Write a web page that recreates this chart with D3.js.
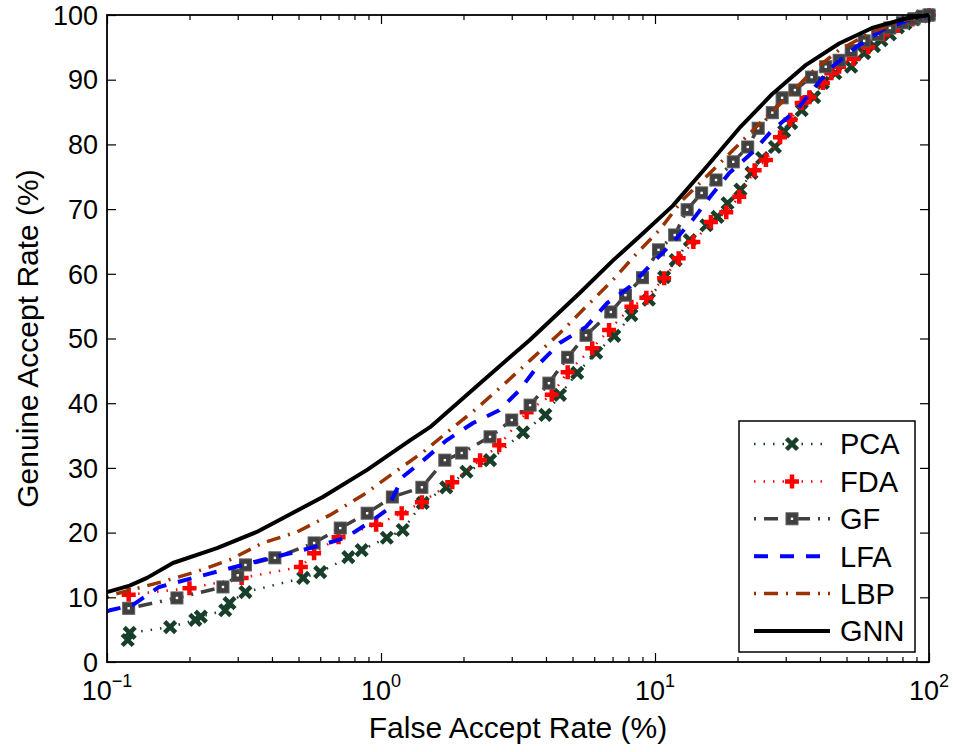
<!DOCTYPE html>
<html>
<head>
<meta charset="utf-8">
<script src="https://cdn.jsdelivr.net/npm/d3@7"></script>
<style>
  body { margin: 0; background: #fff; }
  text { font-family: "Liberation Sans", Arial, Helvetica, sans-serif; fill: #000; }
</style>
</head>
<body>
<svg id="chart" width="953" height="752"></svg>
<script>
// ---- data ----
var pcaFar = [0.119, 0.121, 0.17, 0.21, 0.22, 0.27, 0.28, 0.32, 0.52, 0.6, 0.76, 0.85, 1.05, 1.2, 1.42, 1.73, 2.05, 2.5, 3.3, 3.98, 4.5, 5.2, 6.1, 7.1, 8.2, 9.5, 10.8, 11.9, 13.4, 15.4, 16.9, 18.4, 20.5, 22.5, 24.6, 27.4, 29.6, 31.4, 34.3, 38.1, 41, 45.5, 52, 58, 63, 67, 72, 77, 82, 88, 94, 100];
var pcaGar = [3.4, 4.5, 5.4, 6.5, 7.0, 8.0, 9.1, 10.8, 13.0, 13.9, 16.2, 17.3, 19.2, 20.4, 24.6, 27.0, 29.4, 31.2, 35.5, 38.2, 41.3, 44.7, 47.8, 50.4, 53.6, 56.0, 59.5, 62.1, 65.2, 67.5, 68.8, 70.9, 73.0, 75.6, 77.9, 79.6, 82.0, 83.3, 85.3, 87.3, 89.5, 91.0, 92.0, 94.1, 95.2, 96.1, 97.0, 98.1, 98.7, 99.3, 99.8, 100];

var fdaFar = [0.12, 0.2, 0.31, 0.51, 0.57, 0.7, 0.96, 1.19, 1.41, 1.82, 2.3, 2.7, 3.4, 4.2, 4.8, 5.9, 6.8, 8.2, 9.3, 10.8, 12.2, 13.8, 16.0, 18.2, 20.3, 23.1, 25.4, 28.6, 31.2, 34.3, 36.6, 41, 44, 47, 53, 60, 68, 77, 87, 100];
var fdaGar = [10.4, 11.4, 13.0, 14.7, 16.8, 19.3, 21.2, 23.0, 24.7, 27.8, 31.2, 33.5, 38.6, 41.3, 44.8, 48.5, 51.3, 54.9, 56.3, 59.3, 62.4, 64.9, 68.0, 69.5, 71.9, 76.0, 77.6, 81.1, 83.8, 86.4, 87.3, 89.5, 91.0, 92.0, 93.2, 95.0, 97.0, 98.3, 99.3, 100];

var gfFar = [0.12, 0.18, 0.265, 0.3, 0.32, 0.41, 0.57, 0.71, 0.89, 1.1, 1.41, 1.71, 1.97, 2.5, 3.0, 3.5, 4.1, 4.8, 5.6, 6.9, 7.8, 9.0, 10.3, 11.8, 13.1, 14.8, 16.7, 19.3, 21.8, 23.8, 26.8, 29.1, 32.4, 37.3, 42, 47, 52, 58, 65, 72, 80, 88, 95, 100];
var gfGar = [8.3, 9.9, 11.6, 13.4, 15.0, 16.1, 18.4, 20.7, 23.0, 25.5, 27.0, 31.2, 32.3, 34.8, 37.4, 39.7, 43.1, 47.1, 50.5, 54.1, 56.7, 59.4, 63.7, 66.0, 69.9, 72.5, 74.5, 77.3, 79.6, 82.5, 84.9, 87.2, 88.4, 90.4, 92.0, 93.0, 94.5, 96.0, 97.0, 98.0, 98.8, 99.4, 99.8, 100];

var lfaFar = [0.1, 0.1025, 0.124, 0.155, 0.265, 0.371, 0.466, 0.61, 0.75, 0.93, 1.05, 1.2, 1.43, 1.74, 2.16, 2.7, 3.2, 3.8, 4.49, 5.6, 6.7, 8.1, 9.8, 11.6, 13.7, 15.9, 18.7, 22.6, 26.8, 32.9, 37.5, 44.4, 54.5, 67.8, 87, 100];
var lfaGar = [7.8, 8.0, 8.8, 11.6, 14.2, 15.8, 16.8, 18.1, 19.3, 21.9, 23.5, 28.6, 31.2, 34.3, 36.9, 38.9, 42.0, 46.2, 49.3, 51.8, 55.5, 58.0, 61.7, 64.8, 68.3, 71.9, 75.6, 78.7, 82.2, 85.3, 88.4, 92.0, 95.1, 97.7, 99.5, 100];

var lbpFar = [0.1, 0.105, 0.159, 0.21, 0.281, 0.37, 0.494, 0.65, 0.86, 1.11, 1.43, 1.79, 2.25, 2.84, 3.58, 4.49, 5.6, 7.0, 8.6, 10.4, 12.6, 15.9, 24.2, 30.4, 36.9, 47, 62, 83, 100];
var lbpGar = [10.0, 10.4, 12.4, 13.9, 15.8, 18.4, 20.1, 22.7, 25.8, 29.2, 32.5, 35.9, 39.3, 43.1, 47.0, 50.8, 54.9, 59.0, 63.2, 66.8, 71.4, 75.6, 83.3, 87.3, 91.0, 94.6, 97.4, 99.3, 100];

var gnnFar = [0.1, 0.121, 0.14, 0.174, 0.252, 0.352, 0.613, 0.89, 1.28, 1.51, 2.3, 3.5, 5.3, 7.0, 8.8, 11.6, 15.4, 20.3, 26.8, 35.6, 47, 62, 83, 100];
var gnnGar = [10.8, 11.8, 13.0, 15.3, 17.6, 20.1, 25.5, 29.7, 34.3, 36.3, 43.1, 49.8, 57.0, 62.0, 65.8, 70.5, 76.5, 82.5, 87.8, 92.3, 95.6, 98.0, 99.5, 100];

var names = ["PCA", "FDA", "GF", "LFA", "LBP", "GNN"];
var xMajor = [0.1, 1, 10, 100];
var xExp = ["\u22121", "0", "1", "2"];
var yTicks = [0, 10, 20, 30, 40, 50, 60, 70, 80, 90, 100];

// ---- layout ----
var mL = 107, mR = 929, mT = 15, mB = 662;
var svg = d3.select("#chart");

var x = d3.scaleLog().domain([0.1, 100]).range([mL, mR]);
var y = d3.scaleLinear().domain([0, 100]).range([mB, mT]);

var series = [
  {name: names[0], far: pcaFar, gar: pcaGar, color: "#173f2a", width: 2.5, dash: "1.5,8", marker: "x"},
  {name: names[1], far: fdaFar, gar: fdaGar, color: "#ff0000", width: 2.5, dash: "1.5,8", marker: "plus"},
  {name: names[2], far: gfFar,  gar: gfGar,  color: "#404040", width: 3.5, dash: "2,8,14,8", marker: "square"},
  {name: names[3], far: lfaFar, gar: lfaGar, color: "#0000ff", width: 4, dash: "14,12", marker: null},
  {name: names[4], far: lbpFar, gar: lbpGar, color: "#993300", width: 3.5, dash: "2,8,14,8", marker: null},
  {name: names[5], far: gnnFar, gar: gnnGar, color: "#000000", width: 4, dash: null, marker: null}
];

var line = d3.line().x(function(d){ return x(d[0]); }).y(function(d){ return y(d[1]); });

// draw a marker at (px,py)
var drawMarker = function(g, type, color, px, py) {
  if (type == "x") {
    var s = 5.5;
    g.append("path").attr("d", "M" + (px-s) + "," + (py-s) + "L" + (px+s) + "," + (py+s) + "M" + (px-s) + "," + (py+s) + "L" + (px+s) + "," + (py-s))
      .attr("stroke", color).attr("stroke-width", 4.5).attr("fill", "none");
  }
  else if (type == "plus") {
    var s = 7;
    g.append("path").attr("d", "M" + (px-s) + "," + py + "L" + (px+s) + "," + py + "M" + px + "," + (py-s) + "L" + px + "," + (py+s))
      .attr("stroke", color).attr("stroke-width", 4.5).attr("fill", "none");
  }
  else if (type == "square") {
    var s = 6;
    g.append("rect").attr("x", px-s).attr("y", py-s).attr("width", 2*s).attr("height", 2*s)
      .attr("fill", color).attr("stroke", "#5a5a5a").attr("stroke-width", 1);
    g.append("rect").attr("x", px-1.2).attr("y", py-1.2).attr("width", 2.4).attr("height", 2.4).attr("fill", "#fff");
  }
};

var plot = svg.append("g");
series.forEach(function(s) {
  var pts = d3.zip(s.far, s.gar);
  var p = plot.append("path").datum(pts).attr("d", line)
    .attr("fill", "none").attr("stroke", s.color).attr("stroke-width", s.width)
    .attr("stroke-linejoin", "round");
  if (s.dash) p.attr("stroke-dasharray", s.dash);
  if (s.marker) {
    var mg = plot.append("g");
    pts.forEach(function(d){ drawMarker(mg, s.marker, s.color, x(d[0]), y(d[1])); });
  }
});

// ---- axes ----
var xMinor = [];
for (var e = -1; e < 2; e++) for (var k = 2; k < 10; k++) xMinor.push(k * Math.pow(10, e));

var axStyle = function(g) {
  g.select(".domain").remove();
  g.selectAll("line").attr("stroke", "#000").attr("stroke-width", 1.2);
  g.selectAll("text").remove();
};

svg.append("g").attr("transform", "translate(0," + mB + ")")
  .call(d3.axisBottom(x).tickValues(xMajor).tickSize(-9)).call(axStyle);
svg.append("g").attr("transform", "translate(0," + mB + ")")
  .call(d3.axisBottom(x).tickValues(xMinor).tickSize(-5)).call(axStyle);
svg.append("g").attr("transform", "translate(0," + mT + ")")
  .call(d3.axisTop(x).tickValues(xMajor).tickSize(-9)).call(axStyle);
svg.append("g").attr("transform", "translate(0," + mT + ")")
  .call(d3.axisTop(x).tickValues(xMinor).tickSize(-5)).call(axStyle);
svg.append("g").attr("transform", "translate(" + mL + ",0)")
  .call(d3.axisLeft(y).tickValues(yTicks).tickSize(-9)).call(axStyle);
svg.append("g").attr("transform", "translate(" + mR + ",0)")
  .call(d3.axisRight(y).tickValues(yTicks).tickSize(-9)).call(axStyle);

svg.append("rect").attr("x", mL).attr("y", mT).attr("width", mR-mL).attr("height", mB-mT)
  .attr("fill", "none").attr("stroke", "#000").attr("stroke-width", 1.8);

// tick labels
svg.selectAll(".ylab").data(yTicks).enter().append("text")
  .attr("x", mL - 9).attr("y", function(d){ return y(d); }).attr("dy", "0.36em")
  .attr("text-anchor", "end").style("font-size", "27px").text(function(d){ return d; });

var xl = svg.selectAll(".xlab").data(xMajor).enter().append("text")
  .attr("x", function(d){ return x(d); }).attr("y", 700)
  .attr("text-anchor", "middle").style("font-size", "27px");
xl.append("tspan").text("10");
xl.append("tspan").attr("dy", -13).style("font-size", "18px").text(function(d, i){ return xExp[i]; });

svg.append("text").attr("x", (mL+mR)/2).attr("y", 738).attr("text-anchor", "middle")
  .style("font-size", "30px").text("False Accept Rate (%)");
svg.append("text").attr("transform", "translate(38," + ((mT+mB)/2) + ") rotate(-90)")
  .attr("text-anchor", "middle").style("font-size", "30px").text("Genuine Accept Rate (%)");

// ---- legend ----
var lg = svg.append("g");
lg.append("rect").attr("x", 739).attr("y", 421).attr("width", 176).attr("height", 231)
  .attr("fill", "#fff").attr("stroke", "#000").attr("stroke-width", 1.5);
series.forEach(function(s, i) {
  var ly = 444 + i * 37.4;
  var p = lg.append("line").attr("x1", 754).attr("x2", 830).attr("y1", ly).attr("y2", ly)
    .attr("stroke", s.color).attr("stroke-width", s.width);
  if (s.dash) p.attr("stroke-dasharray", s.dash);
  if (s.marker) drawMarker(lg, s.marker, s.color, 792, ly);
  lg.append("text").attr("x", 840).attr("y", ly).attr("dy", "0.36em").style("font-size", "29px").text(s.name);
});
</script>
</body>
</html>
